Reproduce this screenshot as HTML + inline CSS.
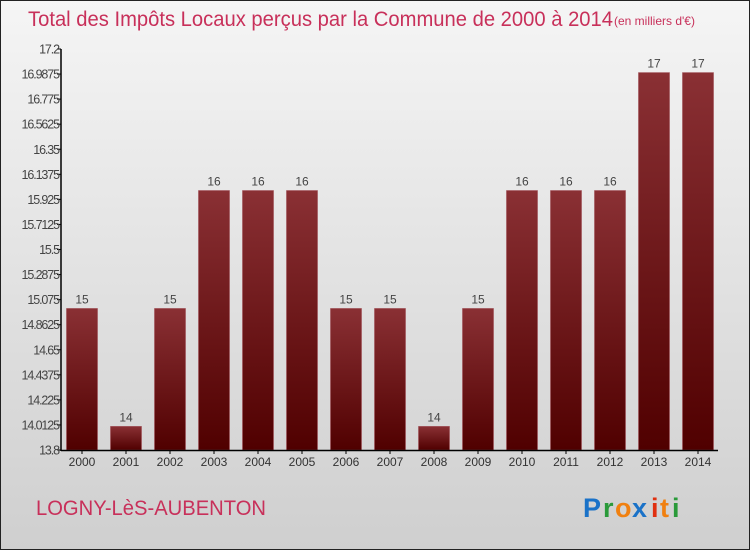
<!DOCTYPE html>
<html><head><meta charset="utf-8"><style>
body{margin:0;}
#c{width:750px;height:550px;position:relative;overflow:hidden;font-family:"Liberation Sans",sans-serif;}
</style></head><body>
<div id="c">
<svg id="s" width="750" height="550" xmlns="http://www.w3.org/2000/svg">
<defs>
<linearGradient id="bg" x1="0" y1="0" x2="0" y2="1"><stop offset="0" stop-color="#f5f5f5"/><stop offset="1" stop-color="#cfcfcf"/></linearGradient>
<linearGradient id="bar" x1="0" y1="0" x2="0" y2="1"><stop offset="0" stop-color="#8a3034"/><stop offset="1" stop-color="#500000"/></linearGradient>
</defs>
<rect x="0.5" y="0.5" width="749" height="549" fill="url(#bg)" stroke="#222"/>
<text x="28" y="26" font-size="21" fill="#c8305a" textLength="585" lengthAdjust="spacingAndGlyphs">Total des Impôts Locaux perçus par la Commune de 2000 à 2014</text>
<text x="614" y="25" font-size="12" fill="#c8305a">(en milliers d'€)</text>
<g id="bars"></g>
<line x1="61" y1="49" x2="61" y2="451" stroke="#000" stroke-width="1.5"/>
<line x1="61" y1="450.5" x2="718" y2="450.5" stroke="#000" stroke-width="1.5"/>
<g id="yt"></g>
<text x="36" y="515" font-size="21" fill="#c8305a" textLength="230" lengthAdjust="spacingAndGlyphs">LOGNY-LèS-AUBENTON</text>
<g font-size="27" font-weight="bold" font-family="'Liberation Sans',sans-serif">
<text x="583" y="517" fill="#1a72c8">P</text><text x="603" y="517" fill="#2a9a3a">r</text><text x="615" y="517" fill="#f08010">o</text><text x="632" y="517" fill="#1a72c8">x</text><text x="651" y="517" fill="#e03010">i</text><text x="660" y="517" fill="#f08010">t</text><text x="672" y="517" fill="#2a9a3a">i</text>
</g>
</svg>
</div>
<script>
const years=["2000","2001","2002","2003","2004","2005","2006","2007","2008","2009","2010","2011","2012","2013","2014"];
const values=[15,14,15,16,16,16,15,15,14,15,16,16,16,17,17];
const yTicks=["13.8","14.0125","14.225","14.4375","14.65","14.8625","15.075","15.2875","15.5","15.7125","15.925","16.1375","16.35","16.5625","16.775","16.9875","17.2"];
const NS="http://www.w3.org/2000/svg";
const yMin=13.8,yMax=17.2,y0=450,y1=49;
function yS(v){return y0-(v-yMin)/(yMax-yMin)*(y0-y1);}
function xS(i){return 82+i*44;}
function mk(t,a,p){const e=document.createElementNS(NS,t);for(const k in a)e.setAttribute(k,a[k]);p.appendChild(e);return e;}
const yt=document.getElementById('yt'),g=document.getElementById('bars');
yTicks.forEach(t=>{const y=yS(parseFloat(t));
const l=mk('line',{x1:57,x2:61,y1:y,y2:y,stroke:'#000'},yt);


const tx=mk('text',{x:59,y:y+4.5,'font-size':12.5,'text-anchor':'end',fill:'#444','letter-spacing':'-1.1'},yt);tx.textContent=t;

});
values.forEach((v,i)=>{const x=xS(i),top=yS(v);
const r=mk('rect',{x:x-15.5,y:top,width:31,height:y0-top,fill:'url(#bar)',stroke:'#a05058','stroke-width':0.6},g);


const vl=mk('text',{x:x,y:top-5,'font-size':12,'text-anchor':'middle',fill:'#444'},g);vl.textContent=v;


const xl=mk('text',{x:x,y:466,'font-size':12,'text-anchor':'middle',fill:'#333'},g);xl.textContent=years[i];


const tk=mk('line',{x1:x,x2:x,y1:450,y2:454,stroke:'#000'},g);

});
</script>
</body></html>
